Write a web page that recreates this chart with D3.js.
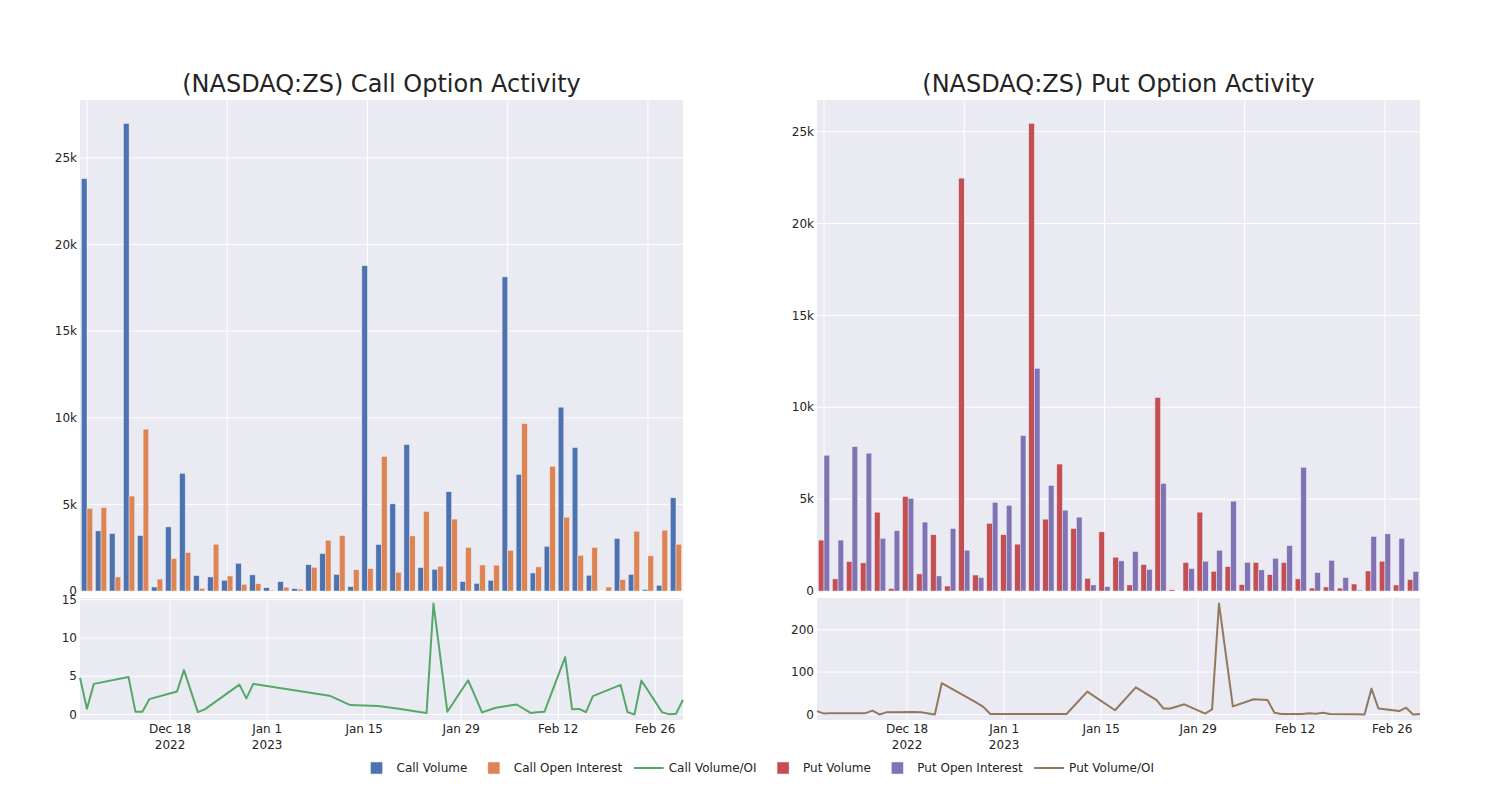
<!DOCTYPE html>
<html><head><meta charset="utf-8">
<script src="https://cdn.jsdelivr.net/npm/d3@7"></script>
<style>body{margin:0;background:#fff;} svg{display:block;font-family:"DejaVu Sans",sans-serif;}</style>
</head><body><svg id="chart" width="1500" height="800"></svg>
<script>
// ---------- data ----------
const dates = ["2022-12-05","2022-12-06","2022-12-07","2022-12-12","2022-12-13","2022-12-14","2022-12-15",
  "2022-12-19","2022-12-20","2022-12-22","2022-12-23","2022-12-28","2022-12-29","2022-12-30",
  "2023-01-10","2023-01-13","2023-01-17","2023-01-20","2023-01-23","2023-01-24","2023-01-25","2023-01-27",
  "2023-01-30","2023-01-31","2023-02-01","2023-02-03","2023-02-06","2023-02-08","2023-02-09","2023-02-10",
  "2023-02-13","2023-02-14","2023-02-15","2023-02-16","2023-02-17","2023-02-21","2023-02-22","2023-02-23",
  "2023-02-24","2023-02-27","2023-02-28","2023-03-01","2023-03-02"];
const callVolume = [23800,3470,3320,26990,3200,230,3700,6790,890,810,620,1600,930,190,540,135,1520,2160,960,250,
  18770,2680,5030,8450,1350,1250,5730,540,440,620,18130,6730,1040,2580,10610,8280,910,0,3030,960,80,330,5380];
const callOI = [4760,4820,810,5480,9340,690,1870,2220,150,2700,870,390,420,45,220,110,1370,2930,3200,1230,
  1290,7770,1080,3180,4590,1430,4150,2510,1500,1490,2350,9660,1390,7200,4260,2060,2510,230,660,3450,2030,3510,2700];
const callRatio = [4.8,0.75,4.0,4.9,0.35,0.35,2.0,3.0,5.8,0.3,0.66,3.9,2.1,4.0,2.46,1.23,1.1,0.74,0.31,0.2,
  14.5,0.35,4.47,2.4,0.27,0.88,1.3,0.2,0.29,0.35,7.5,0.68,0.72,0.3,2.4,3.86,0.3,0.0,4.43,0.27,0.04,0.09,1.93];
const putVolume = [2770,660,1600,1530,4290,130,5150,930,3060,270,22470,870,3680,3060,2550,25450,3910,6910,3400,690,
  3220,1840,330,1440,10530,70,1550,4290,1070,1330,350,1550,890,1550,660,160,220,160,380,1090,1620,330,620];
const putOI = [7390,2770,7860,7500,2870,3280,5040,3750,820,3400,2220,730,4820,4660,8460,12120,5750,4400,4020,330,
  240,1640,2150,1180,5860,0,1220,1620,2220,4890,1560,1150,1780,2470,6730,1000,1670,730,50,2970,3110,2870,1060];
const putRatio = [8,2,3,3,9,0,5,6,5,0,74,28,18,1,1,54,10,64,34,14,14,24,2,12,262,19,36,34,4,1,1,3,1.5,4,1,
  0.5,0,61,14,8,16,0,1];
const barTicks = [0,5000,10000,15000,20000,25000];
const callRatioTicks = [0,5,10,15];
const putRatioTicks = [0,100,200];
const dateTicks = ["2022-12-18","2023-01-01","2023-01-15","2023-01-29","2023-02-12","2023-02-26"];
const dateTickLabels = [["Dec 18","2022"],["Jan 1","2023"],["Jan 15"],["Jan 29"],["Feb 12"],["Feb 26"]];
const legendNames = ["Call Volume","Call Open Interest","Call Volume/OI","Put Volume","Put Open Interest","Put Volume/OI"];

// ---------- style ----------
const BG = "rgb(234,234,242)", TXT = "rgb(36,36,36)";
const C = {blue:"rgb(76,114,176)", orange:"rgb(221,132,82)", green:"rgb(85,168,104)",
           red:"rgb(196,78,82)", purple:"rgb(129,114,179)", brown:"rgb(147,120,96)"};
const W = 603, barTop = 100, barBot = 591, lineTop = 598, lineBot = 720;
const parse = d3.utcParse("%Y-%m-%d");

const svg = d3.select("#chart");

const panels = [
  {title:"(NASDAQ:ZS) Call Option Activity", x0:80, vol:callVolume, oi:callOI, ratio:callRatio,
   cv:C.blue, co:C.orange, cl:C.green, rTicks:callRatioTicks},
  {title:"(NASDAQ:ZS) Put Option Activity", x0:817, vol:putVolume, oi:putOI, ratio:putRatio,
   cv:C.red, co:C.purple, cl:C.brown, rTicks:putRatioTicks}
];

panels.forEach(p => {
  const g = svg.append("g");
  const x0 = p.x0, x1 = p.x0 + W;
  // title
  g.append("text").attr("x", x0 + W/2).attr("y", 92).attr("text-anchor","middle")
    .attr("font-size", 24).attr("fill", TXT).text(p.title);

  // ---- bar panel ----
  g.append("rect").attr("x", x0).attr("y", barTop).attr("width", W).attr("height", barBot-barTop).attr("fill", BG);
  const xb = d3.scaleBand().domain(dates).range([x0, x1]).paddingInner(0).paddingOuter(0);
  const bw = xb.bandwidth();
  const inner = d3.scaleBand().domain(["v","o"]).range([bw*0.1, bw*0.9]).padding(0);
  const ymax = d3.max(p.vol.concat(p.oi)) * 1.05;
  const yb = d3.scaleLinear().domain([0, ymax]).range([barBot, barTop]);

  // grid
  g.selectAll(null).data(barTicks).join("line")
    .attr("x1", x0).attr("x2", x1).attr("y1", d=>yb(d)).attr("y2", d=>yb(d))
    .attr("stroke", "#fff").attr("stroke-width", 1);
  const catGrid = dates.filter((d,i)=> i % 10 === 0);
  g.selectAll(null).data(catGrid).join("line")
    .attr("x1", d=>xb(d)+bw/2).attr("x2", d=>xb(d)+bw/2).attr("y1", barTop).attr("y2", barBot)
    .attr("stroke", "#fff").attr("stroke-width", 1);

  // bars
  const rows = dates.map((d,i)=>({d, v:p.vol[i], o:p.oi[i]}));
  g.selectAll(null).data(rows).join("rect")
    .attr("x", r=>xb(r.d)+inner("v")).attr("width", inner.bandwidth())
    .attr("y", r=>yb(r.v)).attr("height", r=>yb(0)-yb(r.v))
    .attr("fill", p.cv).attr("stroke", BG).attr("stroke-width", 0.5);
  g.selectAll(null).data(rows).join("rect")
    .attr("x", r=>xb(r.d)+inner("o")).attr("width", inner.bandwidth())
    .attr("y", r=>yb(r.o)).attr("height", r=>yb(0)-yb(r.o))
    .attr("fill", p.co).attr("stroke", BG).attr("stroke-width", 0.5);

  // y axis labels
  g.selectAll(null).data(barTicks).join("text")
    .attr("x", x0-3).attr("y", d=>yb(d)).attr("dy","0.35em").attr("text-anchor","end")
    .attr("font-size", 12).attr("fill", TXT).text(d3.format("~s"));

  // ---- line panel ----
  g.append("rect").attr("x", x0).attr("y", lineTop).attr("width", W).attr("height", lineBot-lineTop).attr("fill", BG);
  const xt = d3.scaleUtc().domain(d3.extent(dates, parse)).range([x0, x1]);
  const ext = d3.extent(p.ratio), pad = (ext[1]-ext[0])*0.05;
  const yl = d3.scaleLinear().domain([ext[0]-pad, ext[1]+pad]).range([lineBot, lineTop]);
  g.selectAll(null).data(p.rTicks).join("line")
    .attr("x1", x0).attr("x2", x1).attr("y1", d=>yl(d)).attr("y2", d=>yl(d))
    .attr("stroke", "#fff").attr("stroke-width", 1);
  g.selectAll(null).data(dateTicks).join("line")
    .attr("x1", d=>xt(parse(d))).attr("x2", d=>xt(parse(d))).attr("y1", lineTop).attr("y2", lineBot)
    .attr("stroke", "#fff").attr("stroke-width", 1);
  const line = d3.line().x((d,i)=>xt(parse(dates[i]))).y(d=>yl(d));
  g.append("path").datum(p.ratio).attr("d", line).attr("fill","none")
    .attr("stroke", p.cl).attr("stroke-width", 2).attr("stroke-linejoin","round");
  g.selectAll(null).data(p.rTicks).join("text")
    .attr("x", x0-3).attr("y", d=>yl(d)).attr("dy","0.35em").attr("text-anchor","end")
    .attr("font-size", 12).attr("fill", TXT).text(d=>d);
  // x tick labels
  dateTicks.forEach((d,i)=>{
    const t = g.append("text").attr("x", xt(parse(d))).attr("y", 733).attr("text-anchor","middle")
      .attr("font-size", 12).attr("fill", TXT);
    dateTickLabels[i].forEach((s,j)=>{
      t.append("tspan").attr("x", xt(parse(d))).attr("y", 733 + j*16).text(s);
    });
  });
});

// ---------- legend ----------
const legColors = [C.blue, C.orange, C.green, C.red, C.purple, C.brown];
const legType = ["bar","bar","line","bar","bar","line"];
let lx = 356.5; const ly = 768;
const lg = svg.append("g");
legendNames.forEach((name,i)=>{
  if (legType[i]==="bar") {
    lg.append("rect").attr("x", lx+14).attr("y", ly-6).attr("width", 12).attr("height", 12)
      .attr("fill", legColors[i]).attr("stroke", BG).attr("stroke-width", 0.5);
  } else {
    lg.append("line").attr("x1", lx+5).attr("x2", lx+35).attr("y1", ly).attr("y2", ly)
      .attr("stroke", legColors[i]).attr("stroke-width", 2);
  }
  const t = lg.append("text").attr("x", lx+40).attr("y", ly).attr("dy","0.35em")
    .attr("font-size", 12).attr("fill", TXT).text(name);
  lx += 40 + t.node().getComputedTextLength() + 6.5;
});
</script></body></html>
